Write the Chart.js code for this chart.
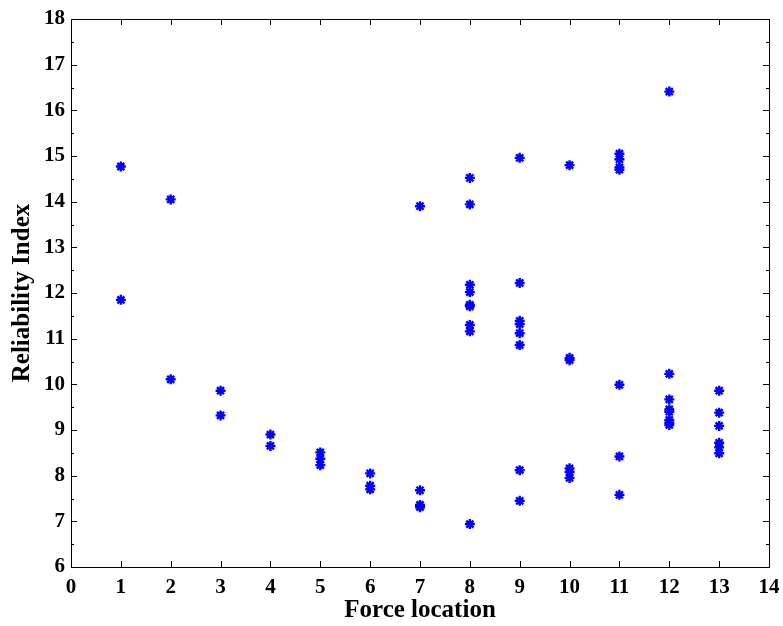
<!DOCTYPE html>
<html>
<head>
<meta charset="utf-8">
<script src="https://cdn.jsdelivr.net/npm/chart.js@4"></script>
<style>
  html, body { margin: 0; padding: 0; background: #fff; }
  #wrap { width: 783px; height: 626px; }
</style>
</head>
<body>
<div id="wrap"><canvas id="chart" width="783" height="626"></canvas></div>
<script>
// values, one pair per marker
const forceLocation = [
  1, 1,
  2, 2,
  3, 3,
  4, 4,
  5, 5, 5,
  6, 6, 6,
  7, 7, 7, 7,
  8, 8, 8, 8, 8, 8, 8, 8, 8,
  9, 9, 9, 9, 9, 9, 9, 9,
  10, 10, 10, 10, 10, 10,
  11, 11, 11, 11, 11, 11, 11,
  12, 12, 12, 12, 12, 12, 12, 12,
  13, 13, 13, 13, 13, 13
];
const reliabilityIndex = [
  14.77, 11.85,
  14.05, 10.11,
  9.86, 9.32,
  8.90, 8.65,
  8.51, 8.37, 8.23,
  8.05, 7.78, 7.70,
  13.90, 7.68, 7.36, 7.31,
  14.52, 13.94, 12.18, 12.02, 11.74, 11.71, 11.30, 11.16, 6.94,
  14.96, 12.22, 11.39, 11.32, 11.12, 10.86, 8.12, 7.45,
  14.80, 10.58, 10.53, 8.16, 8.08, 7.95,
  15.05, 14.93, 14.75, 14.70, 9.99, 8.42, 7.58,
  16.41, 10.23, 9.67, 9.45, 9.40, 9.22, 9.16, 9.11,
  9.86, 9.38, 9.09, 8.72, 8.62, 8.49
];
const xTicks = [0, 14, 1];   // min, max, step
const yTicks = [6, 18, 1];

const points = forceLocation.map((x, i) => ({ x: x, y: reliabilityIndex[i] }));

const font = 'Liberation Serif';

// matlab style box with inward ticks on all four sides
const boxPlugin = {
  id: 'box',
  afterDraw(chart) {
    const { ctx, chartArea: a, scales } = chart;
    ctx.save();
    ctx.strokeStyle = '#000';
    ctx.lineWidth = 1;
    ctx.strokeRect(a.left + 0.5, a.top + 0.5, a.right - a.left, a.bottom - a.top);
    ctx.beginPath();
    for (let v = xTicks[0]; v <= xTicks[1]; v += xTicks[2]) {
      const px = Math.round(scales.x.getPixelForValue(v)) + 0.5;
      ctx.moveTo(px, a.bottom); ctx.lineTo(px, a.bottom - 6);
      ctx.moveTo(px, a.top); ctx.lineTo(px, a.top + 6);
    }
    for (let v = yTicks[0]; v <= yTicks[1]; v += 0.5) {
      const py = Math.round(scales.y.getPixelForValue(v)) + 0.5;
      const len = Number.isInteger(v) ? 6 : 3;
      ctx.moveTo(a.left, py); ctx.lineTo(a.left + len, py);
      ctx.moveTo(a.right, py); ctx.lineTo(a.right - len, py);
    }
    ctx.stroke();
    ctx.restore();
  }
};

new Chart(document.getElementById('chart'), {
  type: 'scatter',
  data: {
    datasets: [{
      data: points,
      pointStyle: 'star',
      pointRadius: 5,
      borderColor: '#0000ff',
      backgroundColor: '#0000ff',
      borderWidth: 2.4
    }]
  },
  options: {
    responsive: false,
    animation: false,
    layout: { padding: { top: 19, right: 14, left: 0, bottom: 0 } },
    plugins: { legend: { display: false }, tooltip: { enabled: false } },
    scales: {
      x: {
        type: 'linear',
        min: xTicks[0], max: xTicks[1],
        grid: { display: false, drawTicks: false },
        border: { display: false },
        ticks: { stepSize: xTicks[2], padding: 8, color: '#000', font: { family: font, size: 21, weight: 'bold' } },
        title: { display: true, text: 'Force location', color: '#000', padding: { top: 0, bottom: 0 }, font: { family: font, size: 25, weight: 'bold' } },
        afterFit(scale) {
          scale.height = 59;
          scale.paddingLeft = 0;
          scale.paddingRight = 0;
        }
      },
      y: {
        type: 'linear',
        min: yTicks[0], max: yTicks[1],
        grid: { display: false, drawTicks: false },
        border: { display: false },
        ticks: { stepSize: yTicks[2], padding: 6, color: '#000', font: { family: font, size: 21, weight: 'bold' } },
        title: { display: true, text: 'Reliability Index', color: '#000', padding: { top: 8, bottom: 0 }, font: { family: font, size: 25, weight: 'bold' } },
        afterFit(scale) {
          scale.width = 71;
          scale.paddingTop = 0;
          scale.paddingBottom = 0;
        }
      }
    }
  },
  plugins: [boxPlugin]
});
</script>
</body>
</html>
